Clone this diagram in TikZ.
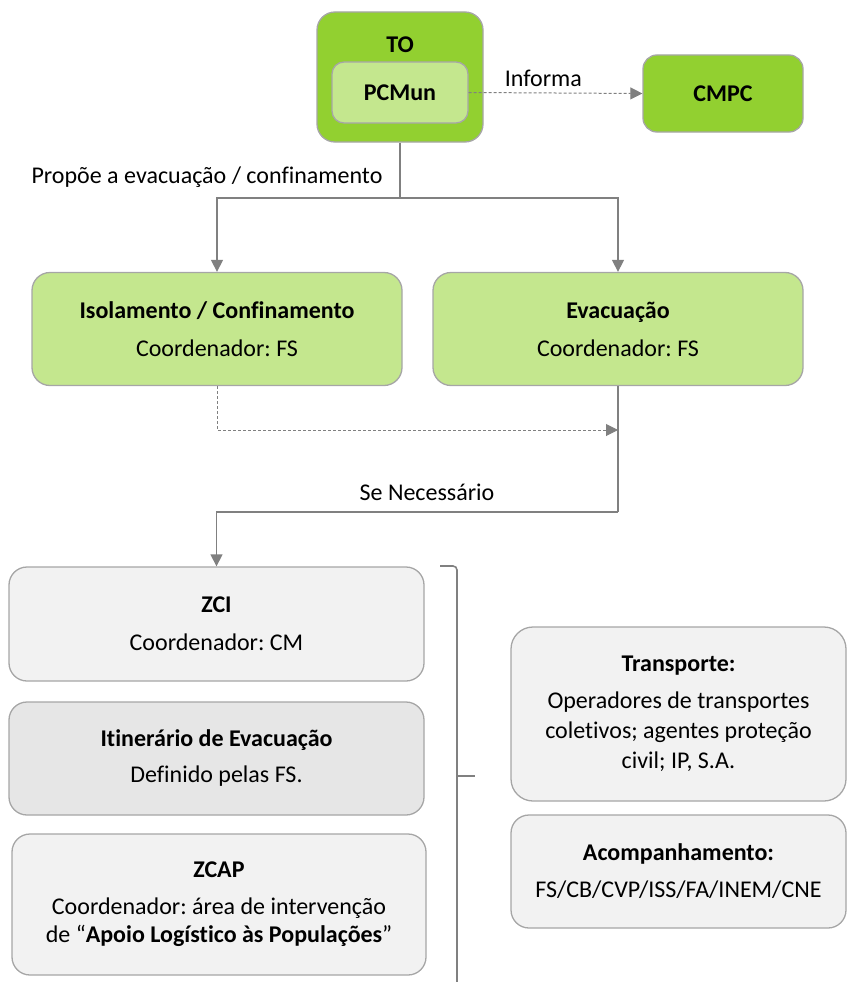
\documentclass[tikz,border=0pt]{standalone}
\usepackage{fontspec}
\setmainfont{Carlito}[Ligatures=NoCommon]
\frenchspacing
\usetikzlibrary{arrows.meta}
\definecolor{greenA}{RGB}{146,208,48}
\definecolor{greenB}{RGB}{196,231,142}
\definecolor{greyA}{RGB}{242,242,242}
\definecolor{greyB}{RGB}{230,230,230}
\definecolor{bordc}{RGB}{166,166,166}
\definecolor{linec}{RGB}{128,128,128}
\begin{document}
\begin{tikzpicture}[x=1pt,y=-1pt,
  box/.style={draw=bordc, line width=1.3pt, rounded corners=18pt, inner sep=0pt, align=center, font=\fontsize{24}{30}\selectfont},
  greenbox/.style={box, fill=greenA},
  lgreenbox/.style={box, fill=greenB},
  greybox/.style={box, fill=greyA},
  dgreybox/.style={box, fill=greyB},
  lbl/.style={font=\fontsize{24}{28}\selectfont, inner sep=0pt},
  conn/.style={draw=linec, line width=1.3pt},
  arr/.style={conn, -{Triangle[length=12pt,width=12pt]}},
  darr/.style={arr, dash pattern=on 3pt off 2pt, line width=1pt},
]
\useasboundingbox (0,0) rectangle (847,982);

% top
\node[greenbox, minimum width=166pt, minimum height=130pt] (to) at (400,77) {};
\node[lbl, font=\fontsize{24}{28}\selectfont\bfseries] (tolbl) at (400,45) {TO};
\node[lgreenbox, rounded corners=12pt, minimum width=136pt, minimum height=61pt, font=\fontsize{24}{28}\selectfont\bfseries] (pcmun) at (400,92.5) {PCMun};
\node[greenbox, rounded corners=14pt, minimum width=160pt, minimum height=77pt, font=\fontsize{24}{28}\selectfont\bfseries] (cmpc) at (723,93.5) {CMPC};
\draw[darr] (pcmun.east) -- node[lbl, above=6pt, pos=0.43] (informa) {Informa} (cmpc.west);

% second level
\node[lgreenbox, minimum width=370pt, minimum height=113pt] (iso) at (217,329)
  {\textbf{Isolamento / Confinamento}\\[8pt]Coordenador: FS};
\node[lgreenbox, minimum width=370pt, minimum height=113pt] (evac) at (618,329)
  {\textbf{Evacuação}\\[8pt]Coordenador: FS};

\coordinate (split) at (400,198);
\draw[conn] (to.south) -- (split);
\draw[arr] (split) -| (iso.north);
\draw[arr] (split) -| (evac.north);
\node[lbl] (propoe) at (207,177) {Propõe a evacuação / confinamento};

\coordinate (dend) at (618,430);
\coordinate (sn) at (618,512);
\draw[darr] (iso.south) |- (dend);

% third level
\node[greybox, minimum width=415pt, minimum height=114pt] (zci) at (216.5,624)
  {\textbf{ZCI}\\[8pt]Coordenador: CM};
\node[dgreybox, minimum width=415pt, minimum height=113pt] (itin) at (216.5,758.5)
  {\textbf{Itinerário de Evacuação}\\[6pt]Definido pelas FS.};
\node[greybox, minimum width=414pt, minimum height=141pt] (zcap) at (219,904.5)
  {\textbf{ZCAP}\\[7pt]Coordenador: área de intervenção\\[-2pt]de “\textbf{Apoio Logístico às Populações}”};

\draw[conn] (evac.south) -- (sn);
\draw[arr] (sn) -| (zci.north);
\node[lbl] (senec) at (427,492) {Se Necessário};

% bracket
\draw[conn, line width=1.6pt, rounded corners=4pt] (440,566) -- (457,566) -- (457,990);
\draw[conn, line width=1.6pt] (457,776) -- (475,776);

% right boxes
\node[greybox, rounded corners=22pt, minimum width=335pt, minimum height=174pt] (transp) at (678.5,714)
  {\textbf{Transporte:}\\[7pt]Operadores de transportes\\coletivos; agentes proteção\\civil; IP, S.A.};
\node[greybox, minimum width=335pt, minimum height=113pt] (acomp) at (678.5,871.5)
  {\textbf{Acompanhamento:}\\[7pt]FS/CB/CVP/ISS/FA/INEM/CNE};
\end{tikzpicture}
\end{document}
